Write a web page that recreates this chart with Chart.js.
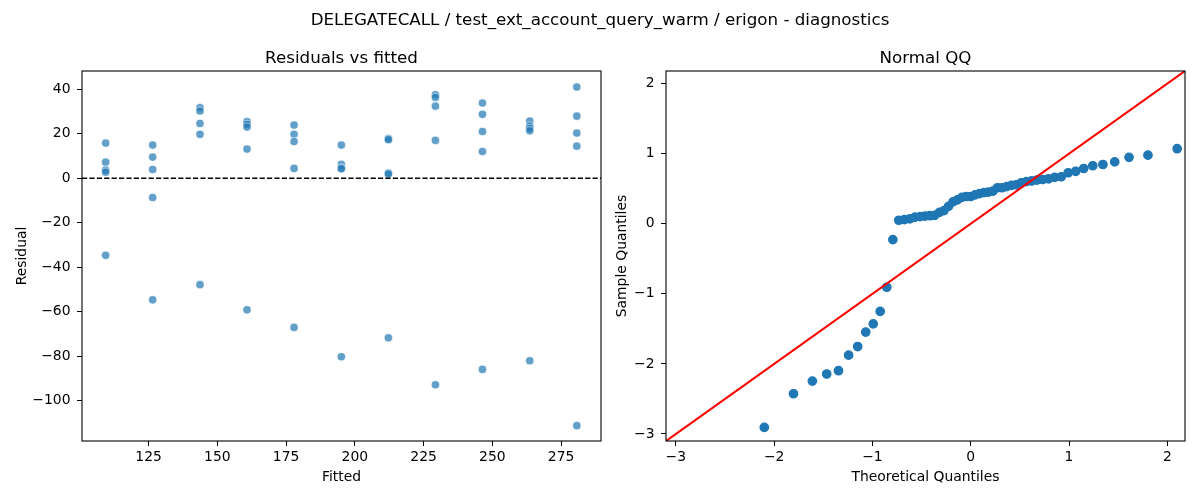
<!DOCTYPE html>
<html><head><meta charset="utf-8">
<script src="https://cdn.jsdelivr.net/npm/chart.js@4.4.1/dist/chart.umd.min.js"></script>
<style>
html,body{margin:0;padding:0;background:#fff;}
#wrap{position:relative;width:1200px;height:500px;overflow:hidden;font-family:'DejaVu Sans',sans-serif;color:#000;background:#fff;}
.t{position:absolute;white-space:nowrap;transform:translate(-50%,-50%);font-size:16.7px;line-height:1;}
canvas{position:absolute;top:0;}
</style></head><body>
<div id="wrap">
<canvas id="c1" width="620" height="500" style="left:0"></canvas>
<canvas id="c2" width="600" height="500" style="left:600px"></canvas>
<div class="t" style="left:600px;top:19px">DELEGATECALL / test_ext_account_query_warm / erigon - diagnostics</div>
<div class="t" style="left:341.5px;top:57px">Residuals vs fitted</div>
<div class="t" style="left:925.5px;top:57px">Normal QQ</div>
</div>
<script>
// ---- data ----
const fittedLevels = [109.4,126.5,143.7,160.8,177.9,195.1,212.2,229.3,246.4,263.6,280.7];
const residualsByLevel = [
  [15.8, 7.2, 3.6, 2.7, -34.7],
  [14.9, 9.5, 3.9, -8.7, -54.7],
  [31.7, 30.2, 24.6, 19.7, -47.9],
  [25.4, 24.2, 23.0, 13.1, -59.2],
  [23.9, 19.7, 16.5, 4.4, -67.1],
  [14.9, 6.2, 4.6, 4.2, -80.3],
  [17.8, 17.3, 2.3, 1.9, -71.8],
  [37.5, 36.3, 32.4, 17.0, -92.9],
  [33.8, 28.7, 21.0, 12.0, -86.0],
  [25.7, 23.4, 22.4, 21.3, -82.1],
  [41.0, 27.9, 20.3, 14.4, -111.3]
];
const fittedTicks = [125, 150, 175, 200, 225, 250, 275];
const residualTicks = [-100, -80, -60, -40, -20, 0, 20, 40];

const theoreticalQ = [-2.100,-1.803,-1.611,-1.465,-1.345,-1.242,-1.150,-1.068,-0.992,-0.921,
  -0.854,-0.792,-0.732,-0.674,-0.619,-0.566,-0.514,-0.464,-0.414,-0.366,
  -0.319,-0.272,-0.226,-0.180,-0.135,-0.090,-0.045,0.000,0.045,0.090,
  0.135,0.180,0.226,0.272,0.319,0.366,0.414,0.464,0.514,0.566,
  0.619,0.674,0.732,0.792,0.854,0.921,0.992,1.068,1.150,1.242,
  1.345,1.465,1.611,1.803,2.100];
const sampleQ = [-2.906,-2.426,-2.245,-2.144,-2.097,-1.875,-1.752,-1.546,-1.428,-1.251,
  -0.906,-0.227,0.050,0.060,0.070,0.094,0.102,0.110,0.115,0.120,
  0.162,0.188,0.248,0.313,0.342,0.376,0.389,0.389,0.413,0.431,
  0.444,0.452,0.465,0.514,0.514,0.530,0.548,0.556,0.585,0.601,
  0.611,0.624,0.632,0.642,0.663,0.671,0.728,0.749,0.789,0.828,
  0.846,0.883,0.948,0.979,1.071];
const qqTicks = [-3, -2, -1, 0, 1, 2];
const refLineEnds = [-3.1, 2.18];

// ---- helpers ----
const FONT = "'DejaVu Sans', sans-serif";
const fmt = v => String(v).replace('-', '\u2212');

function axis(o) {
  return {
    type: 'linear', position: o.pos, min: o.min, max: o.max,
    afterBuildTicks: s => { s.ticks = o.ticks.map(v => ({ value: v })); },
    afterFit: s => { if (o.h) s.height = o.h; if (o.w) s.width = o.w; },
    grid: { display: true, drawOnChartArea: false, drawTicks: true, tickLength: 5, tickWidth: 1, tickColor: '#000', color: '#000' },
    border: { display: false },
    ticks: { color: '#000', font: { family: FONT, size: 13.9 }, padding: o.pad, autoSkip: false, maxRotation: 0, callback: v => fmt(v) },
    title: { display: true, text: o.title, color: '#000', font: { family: FONT, size: 13.9 }, padding: o.tpad }
  };
}

const boxPlugin = {
  id: 'box',
  afterDraw(chart) {
    const a = chart.chartArea, c = chart.ctx;
    c.save();
    c.strokeStyle = '#000'; c.lineWidth = 1.1;
    c.strokeRect(a.left, a.top, a.right - a.left, a.bottom - a.top);
    c.restore();
  }
};
const zeroLinePlugin = {
  id: 'zeroLine',
  afterDatasetsDraw(chart) {
    const a = chart.chartArea, c = chart.ctx;
    const y = chart.scales.y.getPixelForValue(0);
    c.save();
    c.strokeStyle = '#000'; c.lineWidth = 1.4; c.setLineDash([5.2, 2.2]);
    c.beginPath(); c.moveTo(a.left, y); c.lineTo(a.right, y); c.stroke();
    c.restore();
  }
};

const common = {
  responsive: false, animation: false, devicePixelRatio: 1,
  plugins: { legend: { display: false }, tooltip: { enabled: false } }
};

// ---- chart 1: residuals vs fitted ----
const residPoints = [];
fittedLevels.forEach((f, i) => residualsByLevel[i].forEach(r => residPoints.push({ x: f, y: r })));

new Chart(document.getElementById('c1'), {
  type: 'scatter',
  data: { datasets: [{
    data: residPoints,
    backgroundColor: 'rgba(31,119,180,0.7)',
    borderColor: 'rgba(255,255,255,0.7)',
    borderWidth: 0.75, pointRadius: 4.1
  }]},
  options: Object.assign({}, common, {
    layout: { padding: { top: 71, right: 19, bottom: 0, left: 0 } },
    scales: {
      x: axis({ pos: 'bottom', min: 100.8, max: 289.5, ticks: fittedTicks, h: 59, pad: 3, title: 'Fitted', tpad: { top: 0, bottom: 14.2 } }),
      y: axis({ pos: 'left', min: -118.2, max: 48.2, ticks: residualTicks, w: 82, pad: 6.5, title: 'Residual', tpad: { top: 13.7, bottom: 0 } })
    }
  }),
  plugins: [zeroLinePlugin, boxPlugin]
});

// ---- chart 2: normal QQ ----
const qqPoints = theoreticalQ.map((t, i) => ({ x: t, y: sampleQ[i] }));
new Chart(document.getElementById('c2'), {
  type: 'scatter',
  data: { datasets: [
    {
      type: 'line', data: refLineEnds.map(v => ({ x: v, y: v })),
      borderColor: '#ff0000', borderWidth: 2.1, pointRadius: 0, fill: false, showLine: true
    },
    {
      data: qqPoints, backgroundColor: '#1f77b4', borderColor: '#1f77b4',
      borderWidth: 1.3, pointRadius: 4.2
    }
  ]},
  options: Object.assign({}, common, {
    layout: { padding: { top: 71, right: 15, bottom: 0, left: 0 } },
    scales: {
      x: axis({ pos: 'bottom', min: -3.1, max: 2.18, ticks: qqTicks, h: 59, pad: 3, title: 'Theoretical Quantiles', tpad: { top: 0, bottom: 14.2 } }),
      y: axis({ pos: 'left', min: -3.1, max: 2.18, ticks: qqTicks, w: 66, pad: 6.5, title: 'Sample Quantiles', tpad: { top: 13.7, bottom: 0 } })
    }
  }),
  plugins: [boxPlugin]
});
</script>
</body></html>
